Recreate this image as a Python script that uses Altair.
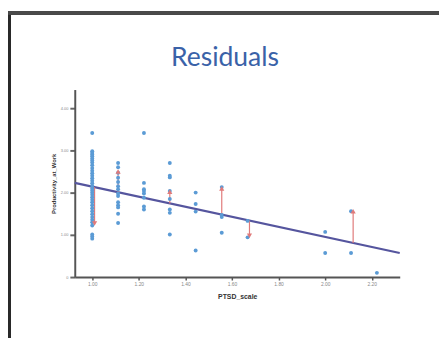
import altair as alt
import pandas as pd

# Observed points: PTSD_scale (x) and Productivity_at_Work (y)
col_x = [1.0, 1.111, 1.222, 1.333, 1.444, 1.556, 1.667, 2.0, 2.111, 2.222]
col_y = [
    [3.41, 2.98, 2.94, 2.90, 2.86, 2.81, 2.76, 2.71, 2.65, 2.58, 2.52, 2.46, 2.40, 2.34,
     2.28, 2.22, 2.16, 2.10, 2.05, 2.00, 1.95, 1.89, 1.83, 1.77, 1.70, 1.63, 1.56, 1.49,
     1.42, 1.36, 1.30, 1.22, 1.01, 0.96, 0.91],
    [2.70, 2.60, 2.47, 2.35, 2.25, 2.15, 2.08, 1.98, 1.92, 1.77, 1.70, 1.65, 1.50, 1.28],
    [3.41, 2.23, 2.08, 2.04, 1.98, 1.88, 1.67, 1.60],
    [2.70, 2.40, 2.36, 2.04, 1.85, 1.60, 1.52, 1.01],
    [2.00, 1.73, 1.55, 0.63],
    [2.13, 1.47, 1.42, 1.05],
    [1.33, 0.94],
    [1.07, 0.57],
    [1.56, 0.57],
    [0.10],
]

# Fitted line
fit_intercept_at_1 = 2.14
fit_slope = -1.19
line_x = [0.925, 2.32]

# Residual arrows: x, observed value
res_x = [1.01, 1.111, 1.333, 1.556, 1.675, 2.12]
res_obs = [1.27, 2.50, 2.02, 2.10, 0.98, 1.56]

x_ticks = [1.0, 1.2, 1.4, 1.6, 1.8, 2.0, 2.2]
y_ticks = [0, 1, 2, 3, 4]

title_text = ["Residuals"]

pts = pd.DataFrame(
    [{"x": cx, "y": v} for cx, ys in zip(col_x, col_y) for v in ys]
)
fit = pd.DataFrame({"x": line_x,
                    "y": [fit_intercept_at_1 + fit_slope * (v - 1.0) for v in line_x]})
res = pd.DataFrame({"x": res_x, "obs": res_obs})
res["fitv"] = fit_intercept_at_1 + fit_slope * (res["x"] - 1.0)
res["dir"] = ["down" if o < f else "up" for o, f in zip(res["obs"], res["fitv"])]
ttl = pd.DataFrame({"t": title_text})

xs = alt.Scale(domain=[0.925, 2.32], nice=False, zero=False)
ys = alt.Scale(domain=[0, 4.44], nice=False)

xax = alt.Axis(values=x_ticks, format=".2f", title="PTSD_scale", grid=False,
               labelFontSize=5, labelColor="#888", tickColor="#555", tickSize=3,
               domainColor="#555", domainWidth=2, tickWidth=1.5,
               titleFontSize=7, titleColor="#333", titlePadding=6, titleFontWeight="bold",
               titleFont="Liberation Sans", labelFont="Liberation Sans")
yax = alt.Axis(values=y_ticks, labelExpr="datum.value == 0 ? '0' : format(datum.value, '.2f')",
               title="Productivity_at_Work", grid=False,
               labelFontSize=4, labelColor="#888", tickColor="#666", tickSize=5,
               domainColor="#555", domainWidth=2, tickWidth=2,
               titleFontSize=6, titleColor="#333", titlePadding=4, titleFontWeight="bold",
               titleFont="Liberation Sans", labelFont="Liberation Sans")

points = alt.Chart(pts).mark_circle(size=16, color="#5b9bd5", opacity=1).encode(
    x=alt.X("x:Q", scale=xs, axis=xax),
    y=alt.Y("y:Q", scale=ys, axis=yax),
)

line = alt.Chart(fit).mark_line(color="#55559e", strokeWidth=2.2).encode(
    x=alt.X("x:Q", scale=xs), y=alt.Y("y:Q", scale=ys)
)

rules = alt.Chart(res).mark_rule(color="#e07a7a", strokeWidth=1.2).encode(
    x=alt.X("x:Q", scale=xs), y=alt.Y("fitv:Q", scale=ys), y2="obs:Q"
)
heads = alt.Chart(res).mark_point(filled=True, size=28, color="#e07a7a", opacity=1).encode(
    x=alt.X("x:Q", scale=xs), y=alt.Y("obs:Q", scale=ys),
    shape=alt.Shape("dir:N", scale=alt.Scale(domain=["up", "down"],
                                             range=["triangle-up", "triangle-down"]),
                    legend=None),
)

border_left = alt.Chart(pts).mark_rule(color="#2a2a2a", strokeWidth=2.5).encode(
    x=alt.value(-66.5), y=alt.value(-78), y2=alt.value(260)
)
border_top = alt.Chart(pts).mark_rule(color="#4a4a4a", strokeWidth=2.5).encode(
    x=alt.value(-67.5), x2=alt.value(380), y=alt.value(-78)
)

title_mark = alt.Chart(ttl).mark_text(font="Lato", fontSize=27, color="#3a62a8",
                                      align="center", baseline="alphabetic").encode(
    text="t:N", x=alt.value(153), y=alt.value(-24)
)

chart = alt.layer(border_left, border_top, line, rules, points, heads, title_mark).properties(
    width=331, height=191,
    padding={"left": 68, "top": 80, "right": 40, "bottom": 59},
    autosize="none",
    background="white",
).configure_view(strokeWidth=0, stroke=None)

chart.save("out.html", embed_options={"renderer": "svg", "actions": False})
